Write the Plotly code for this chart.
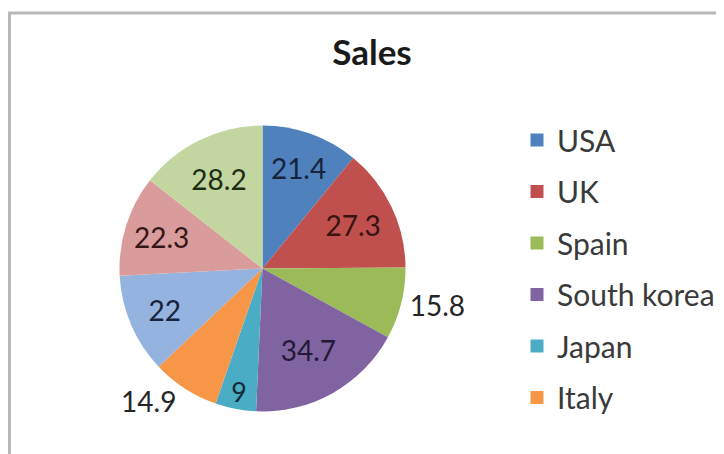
import plotly.graph_objects as go

# Data
title_text = "Sales"
slice_labels = ["USA", "UK", "Spain", "South korea", "Japan", "Italy", "7", "8", "9"]
slice_values = [21.4, 27.3, 15.8, 34.7, 9, 14.9, 22, 22.3, 28.2]
legend_labels = ["USA", "UK", "Spain", "South korea", "Japan", "Italy"]

slice_colors = ["#4F81BD", "#C0504D", "#9BBB59", "#8064A2", "#4BACC6",
                "#F79646", "#95B3DF", "#DA9C9B", "#C3D69F"]
label_colors = ["#16233b", "#351413", "#1f1f1f", "#241934", "#112b33",
                "#1f1f1f", "#17233b", "#331717", "#1d2c14"]
text_positions = ["inside", "inside", "outside", "inside", "inside",
                  "outside", "inside", "inside", "inside"]

W, H = 724, 454
OFF = 8  # page body margin offset
cx, cy, r = 262.5 - OFF, 268.5 - OFF, 143.0

fig = go.Figure()

fig.add_trace(go.Pie(
    labels=slice_labels,
    values=slice_values,
    sort=False,
    direction="clockwise",
    rotation=0,
    marker=dict(colors=slice_colors, line=dict(width=0)),
    textinfo="value",
    textposition=text_positions,
    insidetextorientation="horizontal",
    insidetextfont=dict(family="Lato, Open Sans, sans-serif", size=28, color=label_colors),
    outsidetextfont=dict(family="Lato, Open Sans, sans-serif", size=28, color="#262626"),
    showlegend=False,
    hoverinfo="skip",
    domain=dict(x=[(cx - r) / W, (cx + r) / W],
                y=[(H - cy - r) / H, (H - cy + r) / H]),
))

for name, col in zip(legend_labels, slice_colors):
    fig.add_trace(go.Scatter(
        x=[None], y=[None], mode="markers", name=name, legendgroup=name,
        marker=dict(symbol="square", size=13, color=col, line=dict(width=0)),
        hoverinfo="skip",
    ))

fig.update_layout(
    width=W, height=H,
    margin=dict(l=0, r=0, t=0, b=0),
    paper_bgcolor="white",
    plot_bgcolor="white",
    xaxis=dict(visible=False),
    yaxis=dict(visible=False),
    title=dict(text="<b>" + title_text + "</b>", x=(372 - OFF) / W, y=1 - (53 - OFF) / H,
               xanchor="center", yanchor="middle",
               font=dict(family="Lato, Open Sans, sans-serif", size=35, color="#1a1a1a")),
    legend=dict(x=(537 - 20 - OFF) / W, y=1 - (114 - OFF) / H, xanchor="left", yanchor="top",
                font=dict(family="Lato, Open Sans, sans-serif", size=30, color="#3a3a3a"),
                traceorder="grouped", tracegroupgap=9.5, bgcolor="rgba(0,0,0,0)"),
    shapes=[dict(type="rect", xref="paper", yref="paper",
                 x0=(8 - OFF) / W + 0.002, x1=(718 - OFF) / W, y0=-0.1, y1=1 - (13 - OFF) / H,
                 line=dict(color="#b8b8b8", width=3), fillcolor="rgba(0,0,0,0)",
                 layer="below")],
)

fig.write_html("out.html")
